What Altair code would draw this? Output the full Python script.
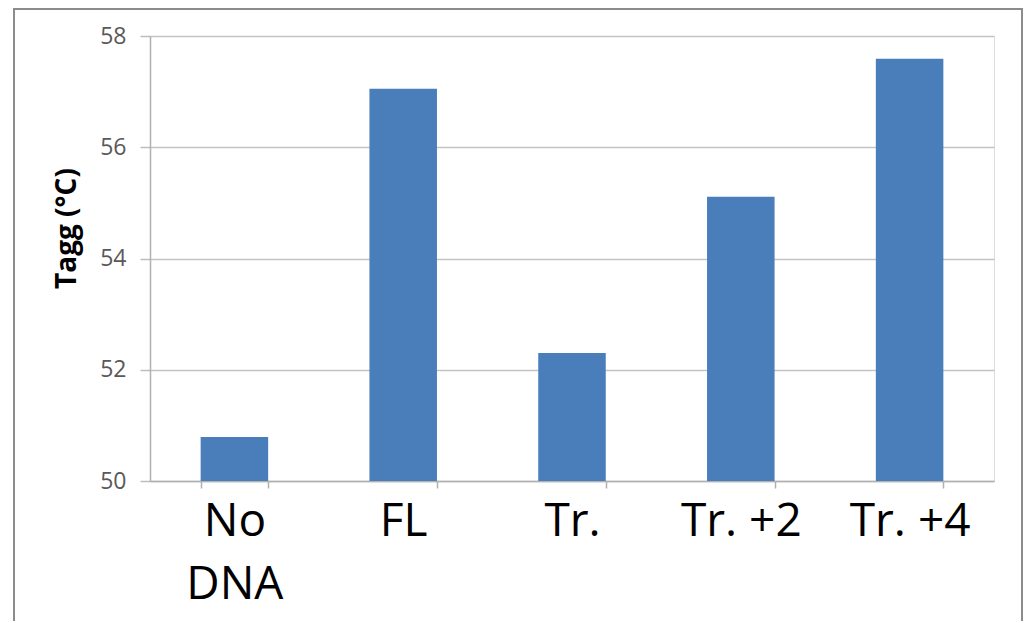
import altair as alt
import pandas as pd

categories = ["No DNA", "FL", "Tr.", "Tr. +2", "Tr. +4"]
values = [50.79, 57.05, 52.30, 55.11, 57.59]
y_ticks = [50, 52, 54, 56, 58]
y_min, y_max = 50, 58

df = pd.DataFrame({"cat": categories, "val": values})

bars = alt.Chart(df).mark_bar(color="#4A7EBB").encode(
    x=alt.X(
        "cat:N",
        sort=categories,
        scale=alt.Scale(paddingInner=0.6, paddingOuter=0.3),
        axis=alt.Axis(
            title=None,
            labelAngle=0,
            labelFont="Open Sans",
            labelFontSize=46,
            labelColor="#000000",
            labelLineHeight=63,
            labelPadding=11,
            tickBand="extent",
            tickSize=7,
            tickColor="#b0b0b0",
            tickWidth=1.5,
            domainColor="#b0b0b0",
            domainWidth=1.5,
            grid=False,
            labelExpr="datum.value == 'No DNA' ? ['No', 'DNA'] : datum.value",
        ),
    ),
    y=alt.Y(
        "val:Q",
        scale=alt.Scale(domain=[y_min, y_max], nice=False, zero=False),
        axis=alt.Axis(
            values=y_ticks,
            title="Tagg (°C)",
            titleFont="Open Sans",
            titleFontSize=28,
            titleFontWeight="bold",
            titleColor="#000000",
            titleAngle=270,
            titleAlign="center",
            titleBaseline="alphabetic",
            titleX=-75,
            titleY=192,
            labelFont="Open Sans",
            labelFontSize=23,
            labelColor="#595959",
            labelPadding=14,
            tickSize=10,
            tickColor="#bcbcbc",
            tickWidth=1.5,
            domainColor="#b0b0b0",
            domainWidth=1.5,
            grid=True,
            gridColor="#c4c4c4",
            gridWidth=1.5,
        ),
    ),
    y2=alt.datum(y_min),
)

frame = alt.Chart(pd.DataFrame({"a": [0]})).mark_rect(
    fill="transparent", stroke="#8c8c8c", strokeWidth=2
).encode(
    x=alt.value(-136),
    x2=alt.value(872),
    y=alt.value(-27),
    y2=alt.value(600),
)

chart = alt.layer(bars, frame).properties(
    width=844,
    height=445,
    autosize=alt.AutoSizeParams(type="none"),
    padding={"left": 142, "top": 28, "right": 30, "bottom": 140},
).configure_view(strokeWidth=0, stroke="transparent").configure(background="white")

chart.save("out.html", embed_options={"renderer": "svg", "actions": False})
